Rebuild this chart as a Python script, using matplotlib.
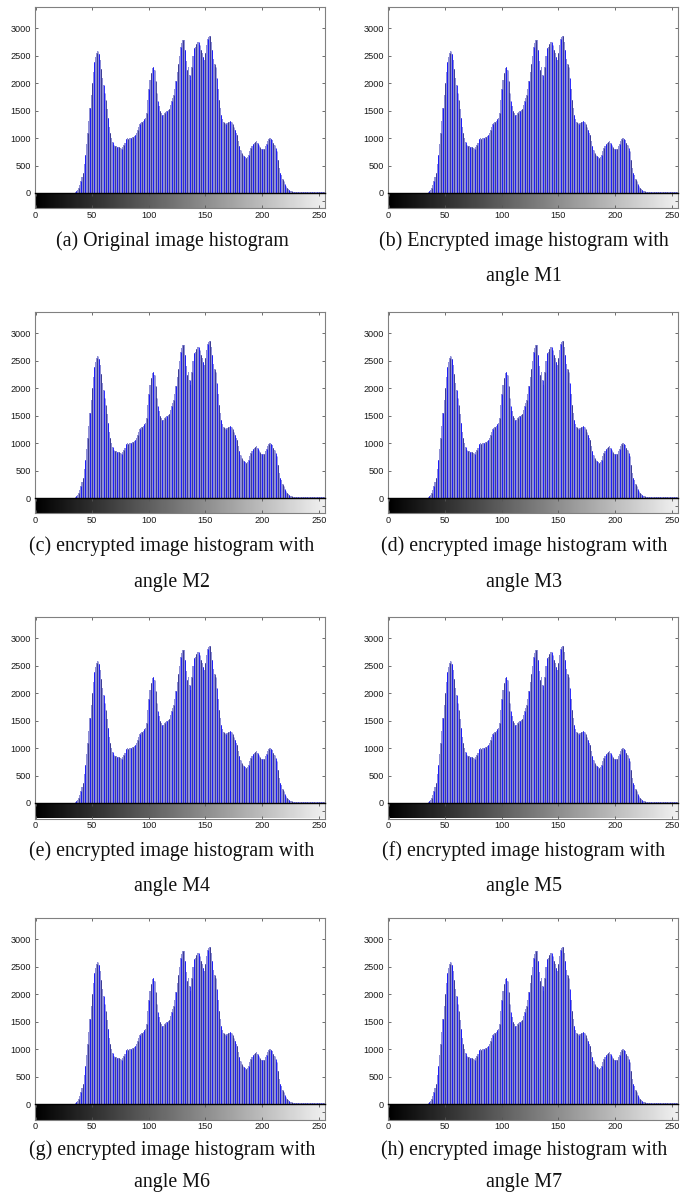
import numpy as np
import matplotlib
matplotlib.use("Agg")
import matplotlib.pyplot as plt

# ---- data: 256-bin grey-level histogram ----
bins = list(range(256))
counts = (
    [0] * 34 +
    [5, 12, 30, 60, 90, 150, 220, 290, 360, 520,            # 34-43
     700, 900, 1090, 1320, 1550, 1780, 2000, 2200, 2380, 2480,  # 44-53
     2550, 2590, 2530, 2420, 2260, 2090, 1960, 1830, 1700, 1530,  # 54-63
     1370, 1210, 1100, 1000, 930, 880, 860, 850, 845, 840,    # 64-73
     835, 820, 800, 830, 880, 920, 980, 1010, 990, 1000,      # 74-83
     1000, 1010, 1020, 1030, 1060, 1100, 1150, 1210, 1260, 1280,  # 84-93
     1300, 1320, 1340, 1370, 1450, 1700, 1900, 2060, 2180, 2270,  # 94-103
     2300, 2250, 2050, 1820, 1680, 1580, 1500, 1450, 1420, 1430,  # 104-113
     1460, 1480, 1500, 1510, 1530, 1600, 1680, 1740, 1790, 1900,  # 114-123
     2050, 2200, 2350, 2500, 2670, 2740, 2790, 2780, 2600, 2400,  # 124-133
     2240, 2300, 2150, 2060, 2300, 2500, 2640, 2670, 2720, 2750,  # 134-143
     2760, 2700, 2600, 2550, 2480, 2420, 2550, 2700, 2800, 2850,  # 144-153
     2870, 2750, 2600, 2450, 2350, 2300, 2100, 1900, 1700, 1550,  # 154-163
     1420, 1350, 1300, 1270, 1250, 1270, 1290, 1300, 1310, 1290,  # 164-173
     1250, 1200, 1150, 1100, 1050, 950, 850, 780, 730, 700,     # 174-183
     680, 660, 640, 650, 700, 760, 820, 860, 890, 920,          # 184-193
     930, 940, 920, 880, 830, 810, 800, 800, 810, 850,          # 194-203
     900, 950, 980, 1000, 990, 960, 920, 870, 820, 760,         # 204-213
     600, 450, 370, 330, 260, 210, 160, 120, 90, 70,            # 214-223
     55, 40, 30, 22, 18, 15, 12, 10, 10, 10,                    # 224-233
     10, 10, 10, 10, 10, 10, 10, 10, 10, 10,                    # 234-243
     10, 10, 10, 10, 10, 10, 10, 10, 10, 10,                    # 244-253
     10, 10]                                                    # 254-255
)
yticks = [0, 500, 1000, 1500, 2000, 2500, 3000]
xticks = [0, 50, 100, 150, 200, 250]
captions = [
    ["(a) Original image histogram"],
    ["(b) Encrypted image histogram with", "angle M1"],
    ["(c) encrypted image histogram with", "angle M2"],
    ["(d) encrypted image histogram with", "angle M3"],
    ["(e) encrypted image histogram with", "angle M4"],
    ["(f) encrypted image histogram with", "angle M5"],
    ["(g) encrypted image histogram with", "angle M6"],
    ["(h) encrypted image histogram with", "angle M7"],
]

W, H = 692, 1193
fig = plt.figure(figsize=(W / 100, H / 100), dpi=100)

col_left = [35, 388]
row_top = [7, 312, 617, 918]
ax_w, ax_h, cb_h = 290, 186, 15.5
cap1 = [234, 234, 234, 232]
cap2 = [270, 270, 270, 265]
cap_cx = [172, 524]

tick_family = "Liberation Sans"
tick_size = 6.6
spine_col = "#808080"
stem_colors = ["#0808ff", "#8a8ad6", "#2c2c88", "#8e8ed8"]
x = np.array(bins)
y = np.array(counts)
line_cols = [stem_colors[k % len(stem_colors)] for k in range(len(x))]
gradient = np.linspace(0, 1, 256).reshape(1, -1)

for i, cap in enumerate(captions):
    r, c = divmod(i, 2)
    left = col_left[c]
    top = row_top[r]
    # histogram axes
    ax = fig.add_axes([left / W, 1 - (top + ax_h) / H, ax_w / W, ax_h / H])
    ax.bar(x, y, width=1.0, color="#8e8ed6", linewidth=0, zorder=1)
    ax.vlines(x, 0, y, colors=line_cols, linewidth=0.6, zorder=2)
    ax.set_xlim(-0.5, 255.5)
    ax.set_ylim(0, 3390)
    ax.set_yticks(yticks)
    ax.set_xticks(xticks)
    ax.tick_params(axis="both", direction="in", length=2.5, width=0.6,
                   color="#555555", top=True, right=True, bottom=False,
                   labelbottom=False, pad=3, labelcolor="#1a1a1a")
    for lab in ax.get_yticklabels():
        lab.set_fontfamily(tick_family)
        lab.set_fontsize(tick_size)
    for s in ax.spines.values():
        s.set_color(spine_col)
        s.set_linewidth(0.8)
    ax.spines["bottom"].set_visible(False)
    # gradient bar axes
    cb = fig.add_axes([left / W, 1 - (top + ax_h + cb_h) / H, ax_w / W, cb_h / H])
    cb.imshow(gradient, cmap="gray", aspect="auto",
              extent=[-0.5, 255.5, 0, 1], vmin=0, vmax=1.06)
    cb.set_xlim(-0.5, 255.5)
    cb.set_ylim(0, 1)
    cb.set_xticks(xticks)
    cb.set_yticks([0.5])
    cb.tick_params(axis="x", direction="in", length=2, width=0.6,
                   color="#555555", top=True, pad=1.5, labelcolor="#1a1a1a")
    cb.tick_params(axis="y", direction="in", length=2.5, width=0.6,
                   color="#555555", left=False, right=True,
                   labelleft=False)
    for lab in cb.get_xticklabels():
        lab.set_fontfamily(tick_family)
        lab.set_fontsize(tick_size)
    for s in cb.spines.values():
        s.set_color(spine_col)
        s.set_linewidth(0.8)
    cb.spines["top"].set_color("black")
    cb.spines["top"].set_linewidth(1.0)
    # captions
    ys = [cap1[r], cap2[r]]
    for k, line in enumerate(cap):
        fig.text(cap_cx[c] / W, 1 - (top + ys[k]) / H, line,
                 ha="center", va="center", family="Liberation Serif",
                 fontsize=14.4, color="#111111")

fig.savefig("out.png", dpi=100)
